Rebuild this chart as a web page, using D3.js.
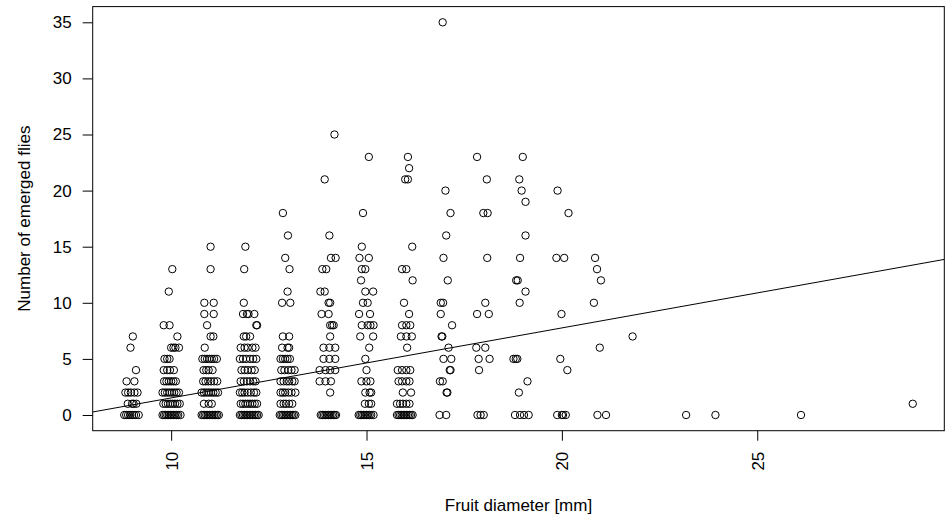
<!DOCTYPE html>
<html>
<head>
<meta charset="utf-8">
<script src="https://cdn.jsdelivr.net/npm/d3@7/dist/d3.min.js"></script>
<style>
  body { margin: 0; background: #fff; }
  svg text { font-family: "Liberation Sans", Arial, Helvetica, sans-serif; fill: #000; }
</style>
</head>
<body>
<div id="chart"></div>
<script>
// Each size class: [number of emerged flies, [fruit diameters in mm]]
const size9 = [
  [0, [8.80, 8.85, 8.90, 8.95, 9.00, 9.05, 9.10, 9.17]],
  [1, [8.89, 9.00, 9.04, 9.11]],
  [2, [8.83, 8.90, 8.97, 9.06, 9.14]],
  [3, [8.86, 9.06]],
  [4, [9.10]],
  [6, [8.96]],
  [7, [9.02]]
];
const size10 = [
  [0, [9.78, 9.82, 9.86, 9.90, 9.94, 9.98, 10.02, 10.06, 10.10, 10.14, 10.18, 10.24]],
  [1, [9.80, 9.86, 9.92, 9.98, 10.04, 10.10, 10.16, 10.22]],
  [2, [9.78, 9.84, 9.90, 9.96, 10.02, 10.08, 10.14, 10.20]],
  [3, [9.82, 9.88, 9.94, 10.00, 10.06, 10.12]],
  [4, [9.81, 9.90, 9.97, 10.07]],
  [5, [9.83, 9.90, 9.96]],
  [6, [10.00, 10.06, 10.11, 10.20]],
  [7, [10.16]],
  [8, [9.81, 9.96]],
  [11, [9.94]],
  [13, [10.03]]
];
const size11 = [
  [0, [10.78, 10.82, 10.86, 10.90, 10.94, 10.98, 11.02, 11.06, 11.10, 11.14, 11.18, 11.22]],
  [1, [10.84, 10.96, 11.04]],
  [2, [10.78, 10.84, 10.90, 10.96, 11.02, 11.08, 11.14, 11.20]],
  [3, [10.82, 10.88, 10.95, 11.02, 11.10, 11.18]],
  [4, [10.83, 10.90, 10.96, 11.06]],
  [5, [10.80, 10.86, 10.92, 10.98, 11.04, 11.10, 11.17]],
  [6, [10.86]],
  [7, [11.01, 11.08]],
  [8, [10.92]],
  [9, [10.85, 11.09]],
  [10, [10.85, 11.09]],
  [13, [11.01]],
  [15, [11.01]]
];
const size12 = [
  [0, [11.76, 11.80, 11.84, 11.88, 11.92, 11.96, 12.00, 12.04, 12.08, 12.12, 12.16, 12.20, 12.24]],
  [1, [11.78, 11.84, 11.90, 11.96, 12.02, 12.08, 12.14, 12.20]],
  [2, [11.76, 11.82, 11.88, 11.96, 12.04, 12.12, 12.18]],
  [3, [11.78, 11.86, 11.94, 12.02, 12.10, 12.16]],
  [4, [11.80, 11.88, 11.96, 12.06, 12.14]],
  [5, [11.76, 11.84, 11.92, 12.02, 12.10, 12.18]],
  [6, [11.78, 11.88, 11.96, 12.08, 12.16]],
  [7, [11.86, 11.92, 12.02]],
  [8, [12.18, 12.20]],
  [9, [11.84, 11.94, 11.98, 12.13]],
  [10, [11.86]],
  [13, [11.87]],
  [15, [11.90]]
];
const size13 = [
  [0, [12.78, 12.82, 12.86, 12.90, 12.94, 12.98, 13.02, 13.06, 13.10, 13.14, 13.18]],
  [1, [12.80, 12.88, 12.94, 13.02, 13.10]],
  [2, [12.80, 12.86, 12.92, 13.00, 13.08, 13.18]],
  [3, [12.80, 12.88, 12.96, 13.02, 13.10, 13.16]],
  [4, [12.82, 12.90, 13.00, 13.08, 13.16]],
  [5, [12.80, 12.86, 12.92, 12.98, 13.04]],
  [6, [12.84, 12.98, 13.02]],
  [7, [12.86, 13.02]],
  [10, [12.84, 13.05]],
  [11, [12.98]],
  [13, [13.03]],
  [14, [12.92]],
  [16, [12.99]],
  [18, [12.86]]
];
const size14 = [
  [0, [13.83, 13.87, 13.91, 13.95, 13.99, 14.03, 14.07, 14.11, 14.15, 14.19, 14.22]],
  [2, [14.07]],
  [3, [13.80, 13.95, 14.09]],
  [4, [13.80, 13.95, 14.07, 14.20]],
  [5, [13.90, 14.05, 14.20]],
  [6, [13.90, 14.05, 14.20]],
  [7, [14.07]],
  [8, [14.07, 14.12, 14.16]],
  [9, [13.85, 14.03]],
  [10, [14.03, 14.07]],
  [11, [13.82, 13.93]],
  [13, [13.87, 13.97]],
  [14, [14.09, 14.21]],
  [16, [14.05]],
  [21, [13.93]],
  [25, [14.18]]
];
const size15 = [
  [0, [14.80, 14.84, 14.88, 14.92, 14.96, 15.00, 15.04, 15.08, 15.12, 15.18]],
  [1, [14.96, 15.06, 15.12]],
  [2, [14.97, 15.08, 15.12]],
  [3, [14.87, 15.00, 15.10]],
  [4, [15.00]],
  [5, [14.97]],
  [6, [15.07]],
  [7, [14.84, 15.17]],
  [8, [14.88, 15.03, 15.10, 15.18]],
  [9, [14.81, 15.09]],
  [10, [14.91, 15.03]],
  [11, [14.97, 15.17]],
  [12, [14.86]],
  [13, [14.88, 14.97]],
  [14, [14.82, 15.06]],
  [15, [14.88]],
  [18, [14.91]],
  [23, [15.06]]
];
const size16 = [
  [0, [15.78, 15.82, 15.86, 15.90, 15.94, 15.98, 16.02, 16.06, 16.10, 16.14, 16.18]],
  [1, [15.78, 15.86, 15.93, 16.02, 16.10]],
  [2, [15.93, 16.14]],
  [3, [15.82, 15.91, 16.02, 16.10]],
  [4, [15.80, 15.91, 16.02, 16.12]],
  [6, [16.04]],
  [7, [15.88, 16.02, 16.16]],
  [8, [15.91, 16.02, 16.12]],
  [9, [16.09]],
  [10, [15.96]],
  [12, [16.18]],
  [13, [15.91, 16.02]],
  [15, [16.17]],
  [21, [15.99, 16.06]],
  [22, [16.09]],
  [23, [16.06]]
];
const size17 = [
  [0, [16.87, 17.04]],
  [2, [17.05, 17.07]],
  [3, [16.88, 16.95]],
  [4, [17.13, 17.15]],
  [5, [16.97, 17.17]],
  [6, [17.10]],
  [7, [16.92, 16.94]],
  [8, [17.19]],
  [9, [16.90]],
  [10, [16.90, 16.96]],
  [12, [17.08]],
  [14, [16.97]],
  [16, [17.04]],
  [18, [17.15]],
  [20, [17.02]],
  [35, [16.95]]
];
const size18 = [
  [0, [17.84, 17.92, 18.00]],
  [4, [17.88]],
  [5, [17.87, 18.15]],
  [6, [17.81, 18.04]],
  [9, [17.83, 18.13]],
  [10, [18.04]],
  [14, [18.09]],
  [18, [17.99, 18.10]],
  [21, [18.08]],
  [23, [17.83]]
];
const size19 = [
  [0, [18.80, 18.93, 19.03, 19.15]],
  [2, [18.90]],
  [3, [19.12]],
  [5, [18.76, 18.82, 18.86]],
  [10, [18.92]],
  [11, [19.07]],
  [12, [18.83, 18.87]],
  [14, [18.93]],
  [16, [19.07]],
  [19, [19.07]],
  [20, [18.97]],
  [21, [18.91]],
  [23, [19.00]]
];
const size20 = [
  [0, [19.88, 20.00, 20.03, 20.10]],
  [4, [20.14]],
  [5, [19.96]],
  [9, [19.99]],
  [14, [19.86, 20.06]],
  [18, [20.17]],
  [20, [19.89]]
];
const size21 = [
  [0, [20.91, 21.13]],
  [6, [20.97]],
  [10, [20.82]],
  [12, [21.00]],
  [13, [20.90]],
  [14, [20.85]]
];
const sizeLarge = [
  [7, [21.81]],
  [0, [23.18, 23.93, 26.12]],
  [1, [28.98]]
];

// linear fit (abline)
const fitIntercept = -4.72;
const fitSlope = 0.624;

const xTicks = [10, 15, 20, 25];
const yTicks = [0, 5, 10, 15, 20, 25, 30, 35];

const width = 948;
const height = 529;
const margin = { top: 6.6, right: 3.7, bottom: 98.3, left: 92.7 };

// flatten the size classes into points
const points = [];
[size9, size10, size11, size12, size13, size14, size15, size16,
 size17, size18, size19, size20, size21, sizeLarge].forEach((cls) => {
  cls.forEach(([flies, diams]) => {
    diams.forEach((d) => points.push({ diameter: d, flies: flies }));
  });
});

const svg = d3.select("#chart")
  .append("svg")
  .attr("width", width)
  .attr("height", height)
  .style("display", "block")
  .style("background", "#fff");

// R style 4% padding on both axes
const xExt = d3.extent(points, (d) => d.diameter);
const xPad = (xExt[1] - xExt[0]) * 0.04;
const yExt = d3.extent(points, (d) => d.flies);
const yPad = (yExt[1] - yExt[0]) * 0.04;

const x = d3.scaleLinear()
  .domain([xExt[0] - xPad, xExt[1] + xPad])
  .range([margin.left, width - margin.right]);

const y = d3.scaleLinear()
  .domain([yExt[0] - yPad, yExt[1] + yPad])
  .range([height - margin.bottom, margin.top]);

// y axis
const yAxis = svg.append("g")
  .attr("transform", `translate(${margin.left},0)`)
  .call(d3.axisLeft(y).tickValues(yTicks).tickSize(10).tickPadding(11));
yAxis.select(".domain").remove();
yAxis.selectAll("line").attr("stroke", "#000");
yAxis.selectAll("text").style("font-size", "17px").attr("fill", "#000");

// x axis, labels perpendicular
const xAxis = svg.append("g")
  .attr("transform", `translate(0,${height - margin.bottom})`)
  .call(d3.axisBottom(x).tickValues(xTicks).tickSize(10));
xAxis.select(".domain").remove();
xAxis.selectAll("line").attr("stroke", "#000");
xAxis.selectAll("text")
  .style("font-size", "17px")
  .attr("fill", "#000")
  .attr("transform", "rotate(-90)")
  .attr("text-anchor", "end")
  .attr("x", -21)
  .attr("y", 0)
  .attr("dy", "0.35em");

// plot box
svg.append("rect")
  .attr("x", margin.left)
  .attr("y", margin.top)
  .attr("width", width - margin.left - margin.right)
  .attr("height", height - margin.top - margin.bottom)
  .attr("fill", "none")
  .attr("stroke", "#000")
  .attr("stroke-width", 1);

// points
svg.append("g")
  .selectAll("circle")
  .data(points)
  .join("circle")
  .attr("cx", (d) => x(d.diameter))
  .attr("cy", (d) => y(d.flies))
  .attr("r", 3.7)
  .attr("fill", "none")
  .attr("stroke", "#000")
  .attr("stroke-width", 1);

// regression line across the whole plot region
const xd = x.domain();
svg.append("line")
  .attr("x1", x(xd[0]))
  .attr("y1", y(fitIntercept + fitSlope * xd[0]))
  .attr("x2", x(xd[1]))
  .attr("y2", y(fitIntercept + fitSlope * xd[1]))
  .attr("stroke", "#000")
  .attr("stroke-width", 1);

// axis titles
svg.append("text")
  .attr("x", (margin.left + width - margin.right) / 2)
  .attr("y", 511)
  .attr("text-anchor", "middle")
  .style("font-size", "17px")
  .text("Fruit diameter [mm]");

svg.append("text")
  .attr("transform", `translate(30,${(margin.top + height - margin.bottom) / 2}) rotate(-90)`)
  .attr("text-anchor", "middle")
  .style("font-size", "17px")
  .text("Number of emerged flies");
</script>
</body>
</html>
